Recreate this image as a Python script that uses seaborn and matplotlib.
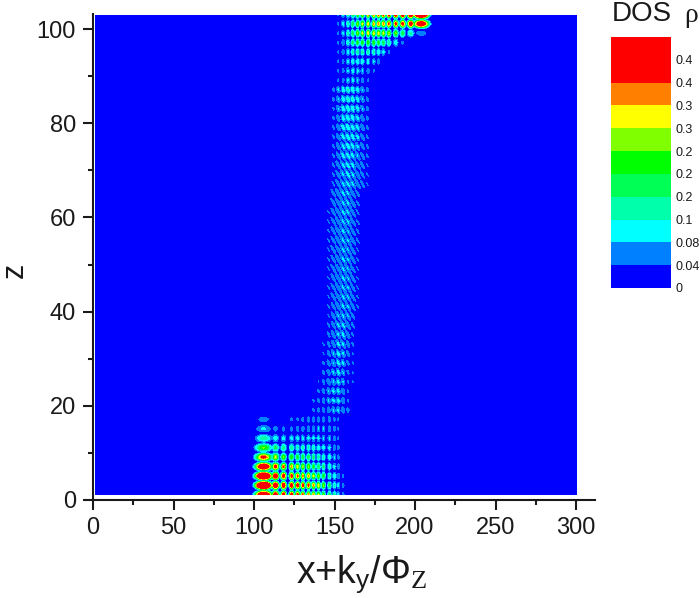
import numpy as np
import matplotlib
matplotlib.use('Agg')
import matplotlib.pyplot as plt
from matplotlib.colors import ListedColormap, BoundaryNorm
import seaborn as sns

# Colour scale
dos_levels = [0, 0.04, 0.08, 0.12, 0.16, 0.2, 0.24, 0.28, 0.32, 0.36, 0.4]
dos_labels = ['0', '0.04', '0.08', '0.1', '0.2', '0.2', '0.2', '0.3', '0.3', '0.4', '0.4']
dos_colors = ['#0000FF', '#0080FF', '#00FFFF', '#00FFAA', '#00FF55',
              '#00FF00', '#80FF00', '#FFFF00', '#FF8000', '#FF0000']

# Peaks, bottom edge state
low_z = [1, 3, 5, 7, 9, 11, 13, 15, 17]
low_x = [105.6, 113, 118, 123, 126.7, 130, 133.5, 136.6, 139.7, 142.8, 146.5, 149.6, 152, 155]
low_amp = [
    [.60, .50, .48, .45, .42, .38, .36, .34, .30, .26, .20, .16, .10, .06],
    [.75, .55, .50, .48, .45, .42, .40, .36, .32, .26, .20, .14, .10, .06],
    [.70, .50, .45, .42, .38, .36, .34, .30, .26, .22, .16, .12, .08, .05],
    [.55, .42, .38, .34, .30, .28, .26, .24, .20, .18, .14, .10, .07, .04],
    [.40, .30, .26, .24, .22, .20, .20, .18, .16, .14, .12, .09, .06, .04],
    [.25, .18, .17, .16, .14, .14, .13, .13, .12, .11, .10, .08, .06, .04],
    [.15, .11, .10, .10, .10, .10, .10, .10, .10, .09, .09, .07, .05, .04],
    [.09, .06, .06, .06, .07, .07, .08, .08, .09, .09, .08, .07, .05, .04],
    [.06, 0, .04, .05, .05, .06, .07, .07, .08, .08, .08, .06, .05, .04],
]

# Middle of the channel
mid_z = [19, 21, 23, 25, 27, 29, 31, 33, 35, 37, 39, 41, 43, 45, 47, 49, 51, 53,
         55, 57, 59, 61, 63, 65, 67, 69, 71, 73, 75, 77, 79, 81, 83, 85, 87]
mid_x = [133.5, 136.6, 139.7, 142.8, 146, 149, 152, 155, 158, 161, 164, 167, 170, 173]
mid_amp = [
    [.04, .05, .06, .07, .08, .09, .09, .08, .06, .04, 0, 0, 0, 0],
    [.04, .05, .06, .07, .085, .095, .10, .08, .05, .04, 0, 0, 0, 0],
    [0, .04, .05, .07, .085, .095, .10, .08, .05, .04, 0, 0, 0, 0],
    [0, 0, .045, .06, .08, .09, .10, .085, .05, .045, 0, 0, 0, 0],
    [0, 0, .04, .055, .075, .09, .10, .085, .055, .045, 0, 0, 0, 0],
    [0, 0, 0, .05, .07, .085, .10, .09, .055, .045, 0, 0, 0, 0],
    [0, 0, 0, .045, .065, .085, .10, .09, .06, .045, 0, 0, 0, 0],
    [0, 0, 0, .045, .06, .08, .095, .095, .07, .05, 0, 0, 0, 0],
    [0, 0, 0, .04, .055, .075, .09, .095, .075, .05, 0, 0, 0, 0],
    [0, 0, 0, 0, .05, .07, .09, .095, .08, .055, 0, 0, 0, 0],
    [0, 0, 0, 0, .045, .07, .085, .09, .085, .06, .04, 0, 0, 0],
    [0, 0, 0, 0, .045, .065, .08, .09, .085, .065, .045, 0, 0, 0],
    [0, 0, 0, 0, .045, .065, .08, .09, .085, .065, .045, 0, 0, 0],
    [0, 0, 0, 0, .045, .065, .08, .09, .085, .065, .045, 0, 0, 0],
    [0, 0, 0, 0, .045, .065, .08, .09, .085, .065, .045, 0, 0, 0],
    [0, 0, 0, 0, .045, .065, .08, .09, .085, .065, .045, 0, 0, 0],
    [0, 0, 0, 0, .045, .065, .08, .09, .085, .07, .045, 0, 0, 0],
    [0, 0, 0, 0, .045, .065, .08, .09, .085, .07, .045, 0, 0, 0],
    [0, 0, 0, 0, .045, .065, .08, .09, .085, .07, .05, 0, 0, 0],
    [0, 0, 0, 0, .045, .065, .08, .09, .085, .07, .05, 0, 0, 0],
    [0, 0, 0, 0, .045, .065, .08, .09, .09, .07, .05, 0, 0, 0],
    [0, 0, 0, 0, .045, .065, .08, .09, .09, .075, .05, 0, 0, 0],
    [0, 0, 0, 0, .04, .065, .08, .09, .09, .075, .05, .04, 0, 0],
    [0, 0, 0, 0, .04, .065, .08, .09, .09, .075, .055, .04, 0, 0],
    [0, 0, 0, 0, 0, .05, .07, .09, .095, .09, .08, .06, .045, 0],
    [0, 0, 0, 0, 0, .05, .07, .09, .10, .09, .08, .06, .045, 0],
    [0, 0, 0, 0, 0, .05, .075, .095, .10, .095, .08, .065, .045, 0],
    [0, 0, 0, 0, 0, .05, .075, .10, .105, .10, .085, .065, .05, 0],
    [0, 0, 0, 0, 0, .05, .075, .10, .11, .105, .09, .07, .05, 0],
    [0, 0, 0, 0, 0, .05, .08, .105, .115, .11, .095, .075, .05, 0],
    [0, 0, 0, 0, 0, .05, .08, .11, .12, .115, .10, .08, .055, .04],
    [0, 0, 0, 0, 0, .05, .08, .11, .12, .115, .10, .08, .055, .04],
    [0, 0, 0, 0, 0, .05, .085, .115, .125, .12, .105, .085, .06, .04],
    [0, 0, 0, 0, 0, .055, .085, .115, .13, .125, .11, .085, .06, .04],
    [0, 0, 0, 0, 0, .055, .09, .115, .13, .125, .11, .085, .06, .04],
]

# Top edge state
top_z = [103, 101, 99, 97, 95, 93, 91, 89]
top_x = [203.5, 197, 192, 187.7, 183.4, 180, 177, 174, 170.5, 167, 164, 161, 158, 155, 152]
top_amp = [
    [.70, .55, .50, .48, .45, .42, .40, .38, .36, .30, .26, .20, .14, .10, .05],
    [.50, .45, .42, .40, .38, .36, .36, .34, .32, .30, .26, .20, .14, .10, .05],
    [.06, .14, .20, .26, .28, .30, .32, .32, .32, .30, .26, .20, .14, .09, .05],
    [0, 0, .05, .12, .16, .20, .22, .24, .24, .24, .22, .18, .13, .08, .05],
    [0, 0, 0, 0, .05, .10, .12, .14, .15, .16, .16, .14, .11, .07, .05],
    [0, 0, 0, 0, 0, .04, .07, .09, .11, .12, .12, .12, .09, .06, .05],
    [0, 0, 0, 0, 0, 0, 0, .05, .07, .09, .10, .11, .09, .06, .05],
    [0, 0, 0, 0, 0, 0, 0, .04, .05, .07, .09, .10, .09, .06, .05],
]

# Lobe shapes, half widths in x and z
low_hx = [8.5, 3.8, 3.1, 2.8, 2.6, 2.5, 2.4, 2.3, 2.3, 2.3, 2.3, 2.3, 2.3, 2.3]
top_hx = [8.0, 3.8, 3.1, 2.8, 2.6, 2.5, 2.4, 2.3, 2.3, 2.3, 2.3, 2.3, 2.3, 2.3, 2.3]
mid_hx = [2.6] * len(mid_x)
low_hz = [1.45] * len(low_z)
top_hz = [1.45] * len(top_z)
mid_hz = [1.5, 1.5, 1.55, 1.6, 1.65, 1.75, 1.8, 1.9, 2.0, 2.1, 2.2, 2.3, 2.4, 2.4, 2.4, 2.4, 2.4, 2.4,
          2.4, 2.4, 2.4, 2.4, 2.4, 2.4, 2.3, 2.2, 2.1, 2.0, 1.9, 1.8, 1.7, 1.65, 1.6, 1.55, 1.5]
mid_tilt = [-.3, -.4, -.5, -.6, -.7, -.8, -.9, -1.0, -1.1, -1.2, -1.3, -1.4, -1.5, -1.5, -1.5, -1.5, -1.5, -1.5,
            -1.5, -1.5, -1.5, -1.5, -1.5, -1.5, -1.4, -1.35, -1.3, -1.2, -1.1, -1.0, -.85, -.7, -.6, -.5, -.4]

# Grid of the map, one cell per pixel
dx, dz = 1 / 1.61, 1 / 4.71
x0, z0 = 1.2, 1.06
x_grid = np.arange(x0, 300.01, dx)
z_grid = np.arange(z0, 103.01, dz)
X, Z = np.meshgrid(x_grid, z_grid)
field = np.zeros(X.shape)


def add_peaks(z_rows, x_cols, amps, hx, hz, tilt=None):
    global field
    for i, zc in enumerate(z_rows):
        s = 0 if tilt is None else tilt[i]
        for j, xc in enumerate(x_cols):
            if amps[i][j] > 0:
                r = np.sqrt(((X - xc - s * (Z - zc)) / hx[j]) ** 2 + ((Z - zc) / hz[i]) ** 2)
                lobe = amps[i][j] * np.cos(np.pi / 2 * np.minimum(r, 1)) ** 2
                field = np.maximum(field, lobe)


add_peaks(low_z, low_x, low_amp, low_hx, low_hz)
add_peaks(mid_z, mid_x, mid_amp, mid_hx, mid_hz, mid_tilt)
add_peaks(top_z, top_x, top_amp, top_hx, top_hz)

sns.set_theme(style='ticks')
plt.rcParams['font.family'] = ['Liberation Sans', 'DejaVu Sans']
plt.rcParams['mathtext.fontset'] = 'custom'
plt.rcParams['mathtext.rm'] = 'Liberation Sans'
plt.rcParams['mathtext.it'] = 'Liberation Serif:regular'

cmap = ListedColormap(dos_colors)
norm = BoundaryNorm(dos_levels[:-1] + [9], cmap.N)

fig = plt.figure(figsize=(7, 5.98), dpi=100)
ax = fig.add_axes([93 / 700, 98 / 598, 502 / 700, 485.5 / 598])
sns.heatmap(field, ax=ax, cmap=cmap, norm=norm, cbar=False, xticklabels=False, yticklabels=False)


# heatmap works in cell numbers
def to_col(v):
    return (np.asarray(v, dtype=float) - x0) / dx


def to_row(v):
    return (np.asarray(v, dtype=float) - z0) / dz


x_major = [0, 50, 100, 150, 200, 250, 300]
x_minor = [25, 75, 125, 175, 225, 275]
z_major = [0, 20, 40, 60, 80, 100]
z_minor = [10, 30, 50, 70, 90]

ax.set_xlim(to_col(0), to_col(311.8))
ax.set_ylim(to_row(0), to_row(103.08))
ax.set_xticks(to_col(x_major), [str(v) for v in x_major])
ax.set_xticks(to_col(x_minor), minor=True)
ax.set_yticks(to_row(z_major), [str(v) for v in z_major], rotation=0)
ax.set_yticks(to_row(z_minor), minor=True)
ax.tick_params(which='major', length=7.2, width=1.5, labelsize=17, color='#1a1a1a', labelcolor='#1a1a1a', pad=5)
ax.tick_params(which='minor', length=3.6, width=1.5, color='#1a1a1a')
ax.tick_params(bottom=True, left=True, which='both')
sns.despine(ax=ax)
for side in ['left', 'bottom']:
    ax.spines[side].set_visible(True)
    ax.spines[side].set_linewidth(1.5)
    ax.spines[side].set_color('#1a1a1a')

fig.text(362 / 700, 1 - 574 / 598, r'x+k$_{\mathrm{y}}$/$\Phi_{Z}$', fontsize=27, ha='center', va='center', color='#1a1a1a')
fig.text(15 / 700, 1 - 270 / 598, 'z', fontsize=22, rotation=90, ha='center', va='center', color='#1a1a1a')

# Legend strip
cax = fig.add_axes([611 / 700, 1 - 288 / 598, 60 / 700, 251 / 598])
sns.heatmap(np.array(dos_levels[::-1])[:, None], ax=cax, cmap=cmap, norm=norm, cbar=False,
            xticklabels=False, yticklabels=False)
cax.yaxis.tick_right()
cax.set_yticks(np.arange(len(dos_levels), 0, -1), dos_labels, rotation=0)
cax.tick_params(axis='y', length=0, labelsize=9, pad=3.6, labelcolor='#1a1a1a')

fig.text(612 / 700, 1 - 14 / 598, 'DOS', fontsize=20, ha='left', va='center', color='#1a1a1a')
fig.text(684 / 700, 1 - 17 / 598, r'$\rho$', fontsize=20, ha='left', va='center', color='#1a1a1a')

fig.savefig('out.png', dpi=100)
